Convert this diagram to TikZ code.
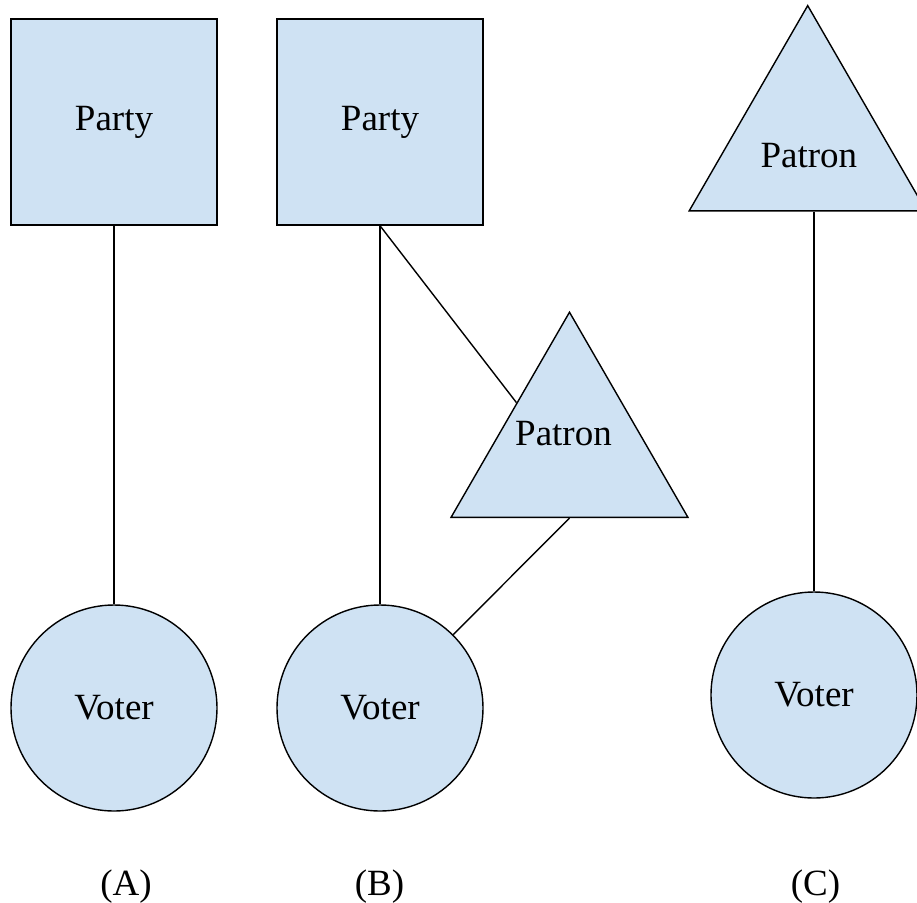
\documentclass[tikz,border=0pt]{standalone}
\usepackage{fontspec}
\setmainfont{Liberation Serif}
\usetikzlibrary{shapes.geometric,calc}

\definecolor{boxblue}{HTML}{CFE2F3}

\begin{document}
\begin{tikzpicture}[x=0.5pt,y=-0.5pt,line width=0.7pt,
  every node/.style={font=\fontsize{18.5}{22}\selectfont},
  party/.style={draw,fill=boxblue,rectangle,inner sep=0pt,minimum size=103pt},
  voter/.style={draw,fill=boxblue,circle,inner sep=0pt,minimum size=103pt},
  patron/.style={draw,fill=boxblue,regular polygon,regular polygon sides=3,inner sep=0pt,minimum size=136.8pt}]
\useasboundingbox (0,0) rectangle (917,902);
\begin{scope}
\clip (0,0) rectangle (917,902);
% (A)
\node[party] (partyA) at (114,122) {Party};
\node[voter] (voterA) at (114,708) {Voter};
\draw (partyA) -- (voterA);
% (B)
\node[party] (partyB) at (380,122) {Party};
\node[voter] (voterB) at (380,708) {Voter};
\node[patron,label={[xshift=-3pt,yshift=7.8pt]center:Patron}] (patronB) at (569.5,449) {};
\draw (partyB) -- (voterB);
\draw (partyB.south) -- ($(patronB.corner 1)!0.443!(patronB.corner 2)$);
\draw (patronB.side 2) -- (voterB);
% (C)
\node[patron,label={[xshift=0.6pt,yshift=-6.5pt]center:Patron}] (patronC) at (807.7,142.4) {};
\node[voter] (voterC) at (814,695) {Voter};
\draw (voterC |- patronC.side 2) -- (voterC);
\end{scope}
\node[anchor=base] (capA) at (126,895) {(A)};
\node[anchor=base] (capB) at (379.5,895) {(B)};
\node[anchor=base] (capC) at (815.5,895) {(C)};
\end{tikzpicture}
\end{document}
